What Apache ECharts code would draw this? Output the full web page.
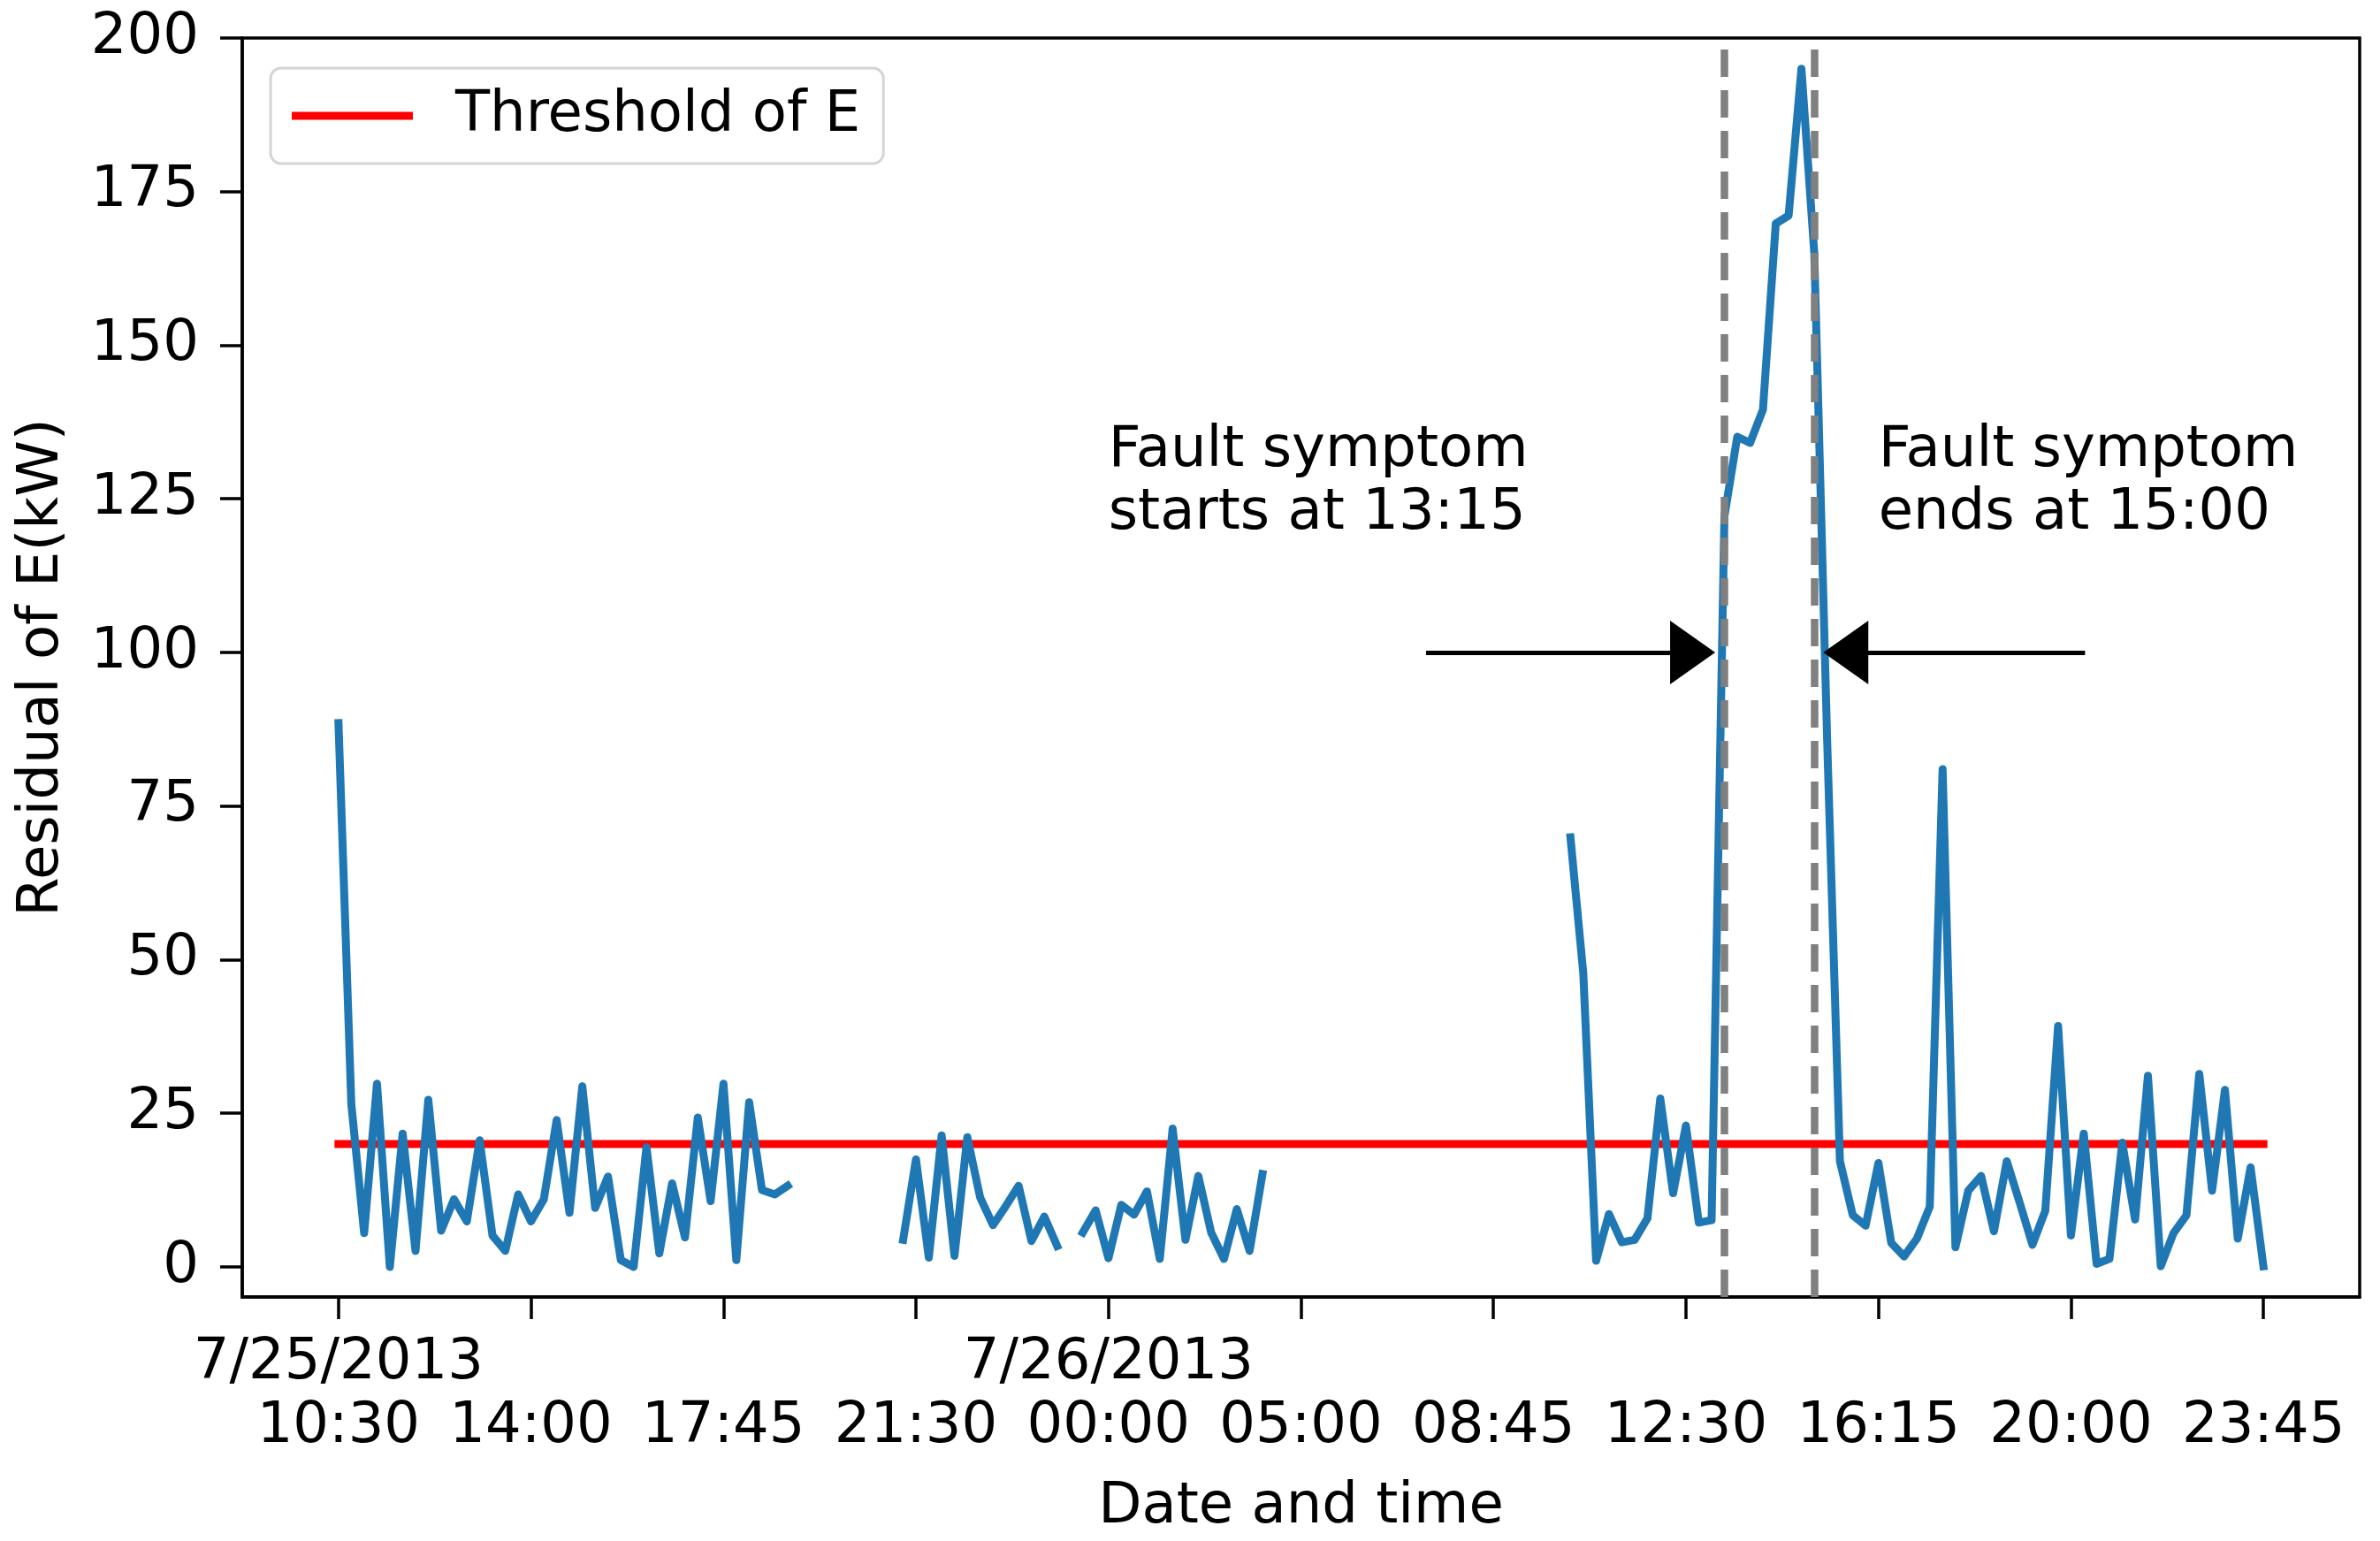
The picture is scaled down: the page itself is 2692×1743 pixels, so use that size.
<!DOCTYPE html>
<html>
<head>
<meta charset="utf-8">
<script src="https://cdn.jsdelivr.net/npm/echarts@6/dist/echarts.min.js"></script>
<style>
html,body{margin:0;padding:0;background:#fff;}
#c{width:2692px;height:1743px;}
</style>
</head>
<body>
<div id="c"></div>
<script>
// ---- data (index-based x axis, 15 samples between labelled ticks) ----
const seg1Start = 0;
const seg1 = [88.5, 26.5, 5.5, 29.8, 0, 21.7, 2.6, 27.2, 5.9, 11.0, 7.4, 20.6, 5.1, 2.6, 11.8,
              7.4, 11.0, 23.9, 8.8, 29.4, 9.6, 14.7, 1.1, 0, 19.5, 2.2, 13.6, 4.8, 24.3, 10.7,
              29.8, 1.1, 26.8, 12.5, 11.8, 13.2];
const seg2Start = 44;
const seg2 = [4.4, 17.5, 1.5, 21.4, 1.8, 21.1, 11.3, 6.8, 9.9, 13.2, 4.2, 8.2, 3.4];
const seg3Start = 58;
const seg3 = [5.6, 9.2, 1.4, 10.1, 8.5, 12.3, 1.3, 22.5, 4.4, 14.8, 5.6, 1.3, 9.4, 2.6, 15.1];
const seg4Start = 96;
const seg4 = [69.9, 47.8, 1.0, 8.6, 4.0, 4.4, 7.9, 27.4, 12.0, 23.0, 7.2, 7.6, 122.2, 135.1,
              134.1, 139.5, 169.8, 171.1, 195.0, 165, 86, 17.2, 8.4, 6.7, 16.9, 3.9, 1.7, 4.6,
              9.8, 81, 3.2, 12.4, 14.8, 5.8, 17.2, 10.5, 3.6, 9.1, 39.2, 5.1, 21.7, 0.5, 1.3,
              20.2, 7.7, 31.1, 0.1, 5.5, 8.4, 31.4, 12.4, 28.8, 4.6, 16.2, 0.1];
const nPoints = 151;

const tickIdx   = [0, 15, 30, 45, 60, 75, 90, 105, 120, 135, 150];
const tickTimes = ['10:30', '14:00', '17:45', '21:30', '00:00', '05:00', '08:45', '12:30', '16:15', '20:00', '23:45'];
const dateIdx   = [0, 60];
const tickDates = ['7/25/2013', '7/26/2013'];
const yTicks    = [0, 25, 50, 75, 100, 125, 150, 175, 200];

const thresholdValue = 20;
const thresholdX = [0, 150];

const faultStartIdx = 108;   // 13:15
const faultEndIdx = 115;     // 15:00
const arrowY = 100;
const arrowLeft  = [84.75, 107.28];   // tail, tip
const arrowRight = [136.1, 115.7];    // tail, tip

const annotStart = {x: 60, y: 127.6, text: 'Fault symptom\nstarts at 13:15'};
const annotEnd   = {x: 120, y: 127.6, text: 'Fault symptom\nends at 15:00'};

// ---- build full residual array with gaps ----
const residual = new Array(nPoints).fill(null);
[[seg1Start, seg1], [seg2Start, seg2], [seg3Start, seg3], [seg4Start, seg4]].forEach(([s, arr]) => {
  arr.forEach((v, k) => { residual[s + k] = v; });
});

const FONT = 'DejaVu Sans';
const FS = 64;
const chart = echarts.init(document.getElementById('c'), null, {renderer: 'canvas'});

const pxPerIdx = 2395 / 165;
const headLen = 51, headW = 72;
const headOff = (headLen / 2) / pxPerIdx;

const arrowStyle = {color: '#000', width: 5, type: 'solid'};
const dashStyle = {color: '#808080', width: 8.5, type: [31, 15]};

const option = {
  animation: false,
  backgroundColor: '#ffffff',
  grid: {
    left: 274, right: 23, top: 43, bottom: 276,
    show: true, borderColor: '#000', borderWidth: 3.5, backgroundColor: 'transparent'
  },
  legend: {
    data: [{name: 'Threshold of E', icon: 'rect'}],
    left: 306, top: 77,
    itemWidth: 137, itemHeight: 9,
    padding: [22, 26, 22, 24],
    borderColor: '#d4d4d4', borderWidth: 3, borderRadius: 12,
    backgroundColor: 'rgba(255,255,255,0.8)',
    selectedMode: false,
    textStyle: {fontFamily: FONT, fontSize: FS, color: '#000', lineHeight: 64, padding: [0, 0, 0, 43]}
  },
  xAxis: [
    {
      type: 'value', min: -7.5, max: 157.5, position: 'bottom',
      name: 'Date and time', nameLocation: 'middle', nameGap: 206,
      nameTextStyle: {fontFamily: FONT, fontSize: FS, color: '#000'},
      axisLine: {show: true, onZero: false, lineStyle: {color: '#000', width: 3.5}},
      splitLine: {show: false},
      axisTick: {show: true, inside: false, length: 25, customValues: tickIdx, lineStyle: {color: '#000', width: 3.5}},
      axisLabel: {
        customValues: tickIdx, margin: 111, fontFamily: FONT, fontSize: FS, color: '#000', lineHeight: 72,
        showMinLabel: true, showMaxLabel: true, hideOverlap: false,
        formatter: function (v) { return tickTimes[tickIdx.indexOf(Math.round(v))] || ''; }
      }
    },
    {
      type: 'value', min: -7.5, max: 157.5, position: 'bottom', offset: 0,
      axisLine: {show: false, onZero: false},
      splitLine: {show: false},
      axisTick: {show: false},
      axisLabel: {
        customValues: dateIdx, margin: 39, fontFamily: FONT, fontSize: FS, color: '#000', lineHeight: 72,
        showMinLabel: true, showMaxLabel: true, hideOverlap: false,
        formatter: function (v) { return tickDates[dateIdx.indexOf(Math.round(v))] || ''; }
      }
    }
  ],
  yAxis: {
    type: 'value', min: -4.9, max: 200,
    name: 'Residual of E(kW)', nameLocation: 'middle', nameGap: 194, nameRotate: 90,
    nameTextStyle: {fontFamily: FONT, fontSize: FS, color: '#000'},
    axisLine: {show: true, onZero: false, lineStyle: {color: '#000', width: 3.5}},
    splitLine: {show: false},
    axisTick: {show: true, inside: false, length: 25, customValues: yTicks, lineStyle: {color: '#000', width: 3.5}},
    axisLabel: {customValues: yTicks, margin: 49, fontFamily: FONT, fontSize: FS, color: '#000', showMinLabel: true, showMaxLabel: true}
  },
  series: [
    {
      name: 'Threshold of E', type: 'line', xAxisIndex: 0,
      data: thresholdX.map(x => [x, thresholdValue]),
      symbol: 'none', showSymbol: false, silent: true,
      itemStyle: {color: '#ff0000'},
      lineStyle: {color: '#ff0000', width: 9, cap: 'square'}
    },
    {
      name: 'Residual of E', type: 'line', xAxisIndex: 0,
      data: residual.map((v, i) => [i, v === null ? '-' : v]),
      connectNulls: false,
      symbol: 'none', showSymbol: false, silent: true,
      itemStyle: {color: '#1f77b4'},
      lineStyle: {color: '#1f77b4', width: 9, cap: 'square', join: 'round'}
    },
    {
      name: 'annotations', type: 'line', xAxisIndex: 0, data: [], silent: true,
      markLine: {
        silent: true, symbol: 'none', animation: false,
        label: {show: false},
        emphasis: {disabled: true},
        data: [
          {xAxis: faultStartIdx, lineStyle: dashStyle},
          {xAxis: faultEndIdx, lineStyle: dashStyle},
          [
            {coord: [arrowLeft[0], arrowY], symbol: 'none', lineStyle: arrowStyle},
            {coord: [arrowLeft[1] - headOff, arrowY], symbol: 'triangle', symbolSize: [headW, headLen], lineStyle: arrowStyle, itemStyle: {color: '#000'}}
          ],
          [
            {coord: [arrowRight[0], arrowY], symbol: 'none', lineStyle: arrowStyle},
            {coord: [arrowRight[1] + headOff, arrowY], symbol: 'triangle', symbolSize: [headW, headLen], lineStyle: arrowStyle, itemStyle: {color: '#000'}}
          ]
        ]
      }
    }
  ]
};
chart.setOption(option);

function annotGraphic(a) {
  const p = chart.convertToPixel({gridIndex: 0}, [a.x, a.y]);
  return {
    type: 'text', x: p[0], y: p[1], silent: true, z: 100,
    style: {text: a.text, fontFamily: FONT, fontSize: FS, fill: '#000', align: 'left', verticalAlign: 'middle', lineHeight: 71}
  };
}
chart.setOption({graphic: [annotGraphic(annotStart), annotGraphic(annotEnd)]});
</script>
</body>
</html>
